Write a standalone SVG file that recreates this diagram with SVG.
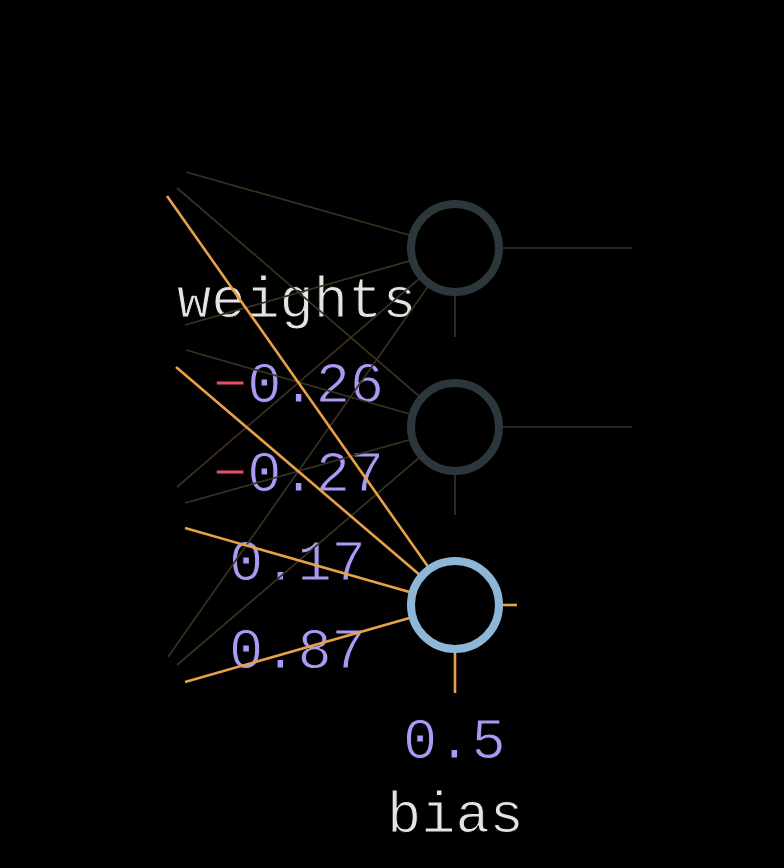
<svg xmlns="http://www.w3.org/2000/svg" width="784" height="868" viewBox="0 0 784 868">
<style>
.dim{stroke:#3d2e1f;stroke-width:1.7;fill:none}
.olive{stroke:#36331f;stroke-width:1.7;fill:none}
.hot{stroke:#e8a14a;stroke-width:2.6;fill:none}
.node{fill:#000;stroke-width:8}
.n-off{stroke:#2c373b}
.n-on{stroke:#8eb7d7}
.lbl{font-family:"Liberation Mono","Courier New",monospace;font-size:57px;stroke:#000;stroke-width:1px}
.w{fill:#e4e4e4}
.num{fill:#aa9af4}
.neg{fill:#e64f6a}
</style>
<rect x="0" y="0" width="784" height="868" fill="#000"/>
<g id="labels">
<text class="lbl w" x="177" y="317">weights</text>
<text class="lbl" x="213" y="402"><tspan class="neg">−</tspan><tspan class="num">0.26</tspan></text>
<text class="lbl" x="213" y="491"><tspan class="neg">−</tspan><tspan class="num">0.27</tspan></text>
<text class="lbl num" x="229" y="580">0.17</text>
<text class="lbl num" x="229" y="668">0.87</text>
<text class="lbl num" x="403" y="758">0.5</text>
<text class="lbl w" x="387" y="832">bias</text>
</g>
<g id="connectors">
<line class="dim" x1="186" y1="172" x2="455" y2="248"/>
<line class="olive" x1="185" y1="325" x2="455" y2="248"/>
<line class="dim" x1="177" y1="487" x2="455" y2="248"/>
<line class="dim" x1="168" y1="657" x2="455" y2="248"/>
<line class="olive" x1="177" y1="188" x2="455" y2="427"/>
<line class="olive" x1="186" y1="350" x2="455" y2="427"/>
<line class="olive" x1="185" y1="503" x2="455" y2="427"/>
<line class="olive" x1="177" y1="665" x2="455" y2="427"/>
<line class="hot" x1="167" y1="196" x2="455" y2="605"/>
<line class="hot" x1="176" y1="367" x2="455" y2="605"/>
<line class="hot" x1="185" y1="528" x2="455" y2="605"/>
<line class="hot" x1="185" y1="682" x2="455" y2="605"/>
<line class="dim" x1="500" y1="248" x2="632" y2="248"/>
<line class="dim" x1="500" y1="427" x2="632" y2="427"/>
<line class="hot" x1="500" y1="605" x2="517" y2="605"/>
<line class="olive" x1="455" y1="295" x2="455" y2="337"/>
<line class="olive" x1="455" y1="474" x2="455" y2="515"/>
<line class="hot" x1="455" y1="652" x2="455" y2="693"/>
</g>
<g id="node1"><circle class="node n-off" cx="455" cy="248" r="44"/></g>
<g id="node2"><circle class="node n-off" cx="455" cy="427" r="44"/></g>
<g id="node3"><circle class="node n-on" cx="455" cy="605" r="44"/></g>
</svg>
